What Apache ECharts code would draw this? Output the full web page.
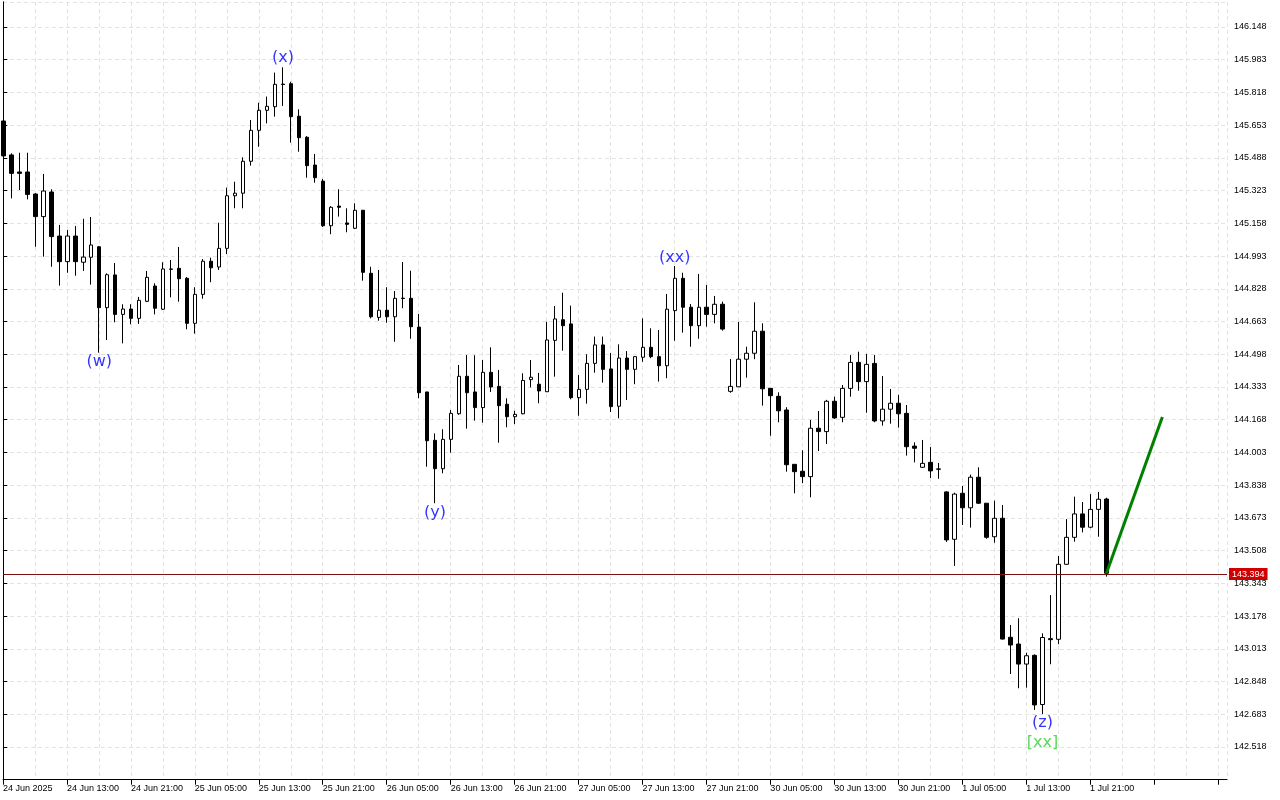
<!DOCTYPE html>
<html><head><meta charset="utf-8">
<script src="https://cdn.jsdelivr.net/npm/echarts@6.0.0/dist/echarts.min.js"></script>
<style>html,body{margin:0;padding:0;background:#fff}#c{width:1280px;height:800px}</style>
</head><body><div id="c"></div>
<script>
const timeLabels = ['24 Jun 2025','24 Jun 13:00','24 Jun 21:00','25 Jun 05:00','25 Jun 13:00','25 Jun 21:00','26 Jun 05:00','26 Jun 13:00','26 Jun 21:00','27 Jun 05:00','27 Jun 13:00','27 Jun 21:00','30 Jun 05:00','30 Jun 13:00','30 Jun 21:00','1 Jul 05:00','1 Jul 13:00','1 Jul 21:00'];
const barsPerLabel = 8;

const opens = [145.674,145.503,145.417,145.417,145.306,145.192,145.316,145.094,144.965,145.094,144.962,144.987,145.040,144.733,144.898,144.699,144.726,144.679,144.765,144.842,144.725,144.926,144.931,144.881,144.654,144.800,144.967,144.938,145.032,145.297,145.310,145.471,145.627,145.728,145.746,145.860,145.862,145.698,145.592,145.452,145.371,145.146,145.245,145.160,145.133,145.224,144.906,144.684,144.720,144.687,144.779,144.780,144.635,144.308,144.064,143.921,144.069,144.198,144.387,144.308,144.229,144.407,144.336,144.246,144.183,144.198,144.370,144.347,144.309,144.568,144.672,144.651,144.279,144.321,144.452,144.545,144.424,144.236,144.479,144.422,144.483,144.533,144.486,144.440,144.718,144.881,144.735,144.642,144.735,144.699,144.750,144.311,144.334,144.473,144.503,144.614,144.326,144.286,144.217,143.943,143.908,143.881,144.125,144.108,144.261,144.180,144.326,144.457,144.360,144.452,144.162,144.221,144.251,144.200,144.035,143.928,143.953,143.918,143.804,143.565,143.797,143.724,143.878,143.747,143.578,143.671,143.071,143.037,142.936,142.980,142.732,143.064,143.061,143.439,143.575,143.693,143.626,143.716,143.768];
const closes = [145.498,145.410,145.410,145.304,145.192,145.321,145.091,144.965,145.094,144.965,144.988,145.049,144.733,144.899,144.699,144.726,144.679,144.770,144.886,144.730,144.928,144.928,144.879,144.654,144.800,144.967,144.934,145.032,145.297,145.310,145.471,145.627,145.728,145.748,145.859,145.858,145.696,145.590,145.449,145.388,145.146,145.239,145.239,145.153,145.224,144.911,144.687,144.720,144.687,144.780,144.781,144.637,144.304,144.062,143.921,144.069,144.200,144.387,144.304,144.229,144.407,144.333,144.239,144.183,144.195,144.366,144.382,144.313,144.570,144.676,144.642,144.279,144.321,144.452,144.545,144.422,144.234,144.479,144.422,144.486,144.533,144.486,144.440,144.725,144.881,144.735,144.642,144.735,144.699,144.750,144.625,144.336,144.473,144.503,144.614,144.324,144.289,144.213,143.941,143.906,143.881,144.125,144.108,144.261,144.177,144.326,144.457,144.360,144.447,144.162,144.221,144.251,144.198,144.032,144.024,143.948,143.910,143.920,143.562,143.793,143.724,143.878,143.747,143.575,143.671,143.062,143.032,142.936,142.978,142.730,143.070,143.059,143.439,143.575,143.693,143.626,143.716,143.767,143.394];
const lows = [145.488,145.284,145.326,145.279,145.040,144.990,144.939,144.844,144.909,144.894,144.918,144.849,144.506,144.570,144.659,144.553,144.649,144.651,144.761,144.699,144.721,144.785,144.763,144.624,144.602,144.778,144.861,144.923,145.003,145.234,145.234,145.449,145.544,145.662,145.696,145.750,145.565,145.519,145.388,145.363,145.140,145.103,145.192,145.113,145.130,144.869,144.679,144.667,144.657,144.561,144.730,144.576,144.276,143.931,143.747,143.898,144.002,144.193,144.123,144.163,144.153,144.308,144.052,144.130,144.146,144.195,144.331,144.251,144.308,144.385,144.516,144.271,144.188,144.249,144.405,144.355,144.207,144.175,144.267,144.347,144.460,144.478,144.360,144.377,144.566,144.607,144.536,144.576,144.637,144.654,144.617,144.304,144.333,144.380,144.473,144.239,144.087,144.155,143.906,143.797,143.848,143.777,144.010,144.046,144.172,144.155,144.284,144.314,144.203,144.155,144.138,144.148,144.128,143.987,143.953,143.925,143.874,143.870,143.552,143.431,143.637,143.624,143.743,143.568,143.548,143.060,142.886,142.814,142.817,142.705,142.684,142.935,143.036,143.438,143.553,143.600,143.621,143.578,143.377];
const highs = [145.684,145.511,145.514,145.514,145.310,145.407,145.330,145.150,145.124,145.145,145.181,145.190,145.044,144.906,144.958,144.750,144.750,144.787,144.918,144.856,144.962,144.973,145.039,144.887,144.836,144.978,144.985,145.161,145.338,145.368,145.491,145.679,145.766,145.797,145.918,145.945,145.872,145.733,145.598,145.508,145.382,145.245,145.330,145.234,145.259,145.225,144.939,144.923,144.836,144.817,144.963,144.919,144.701,144.308,144.099,144.120,144.217,144.444,144.494,144.493,144.469,144.533,144.419,144.276,144.213,144.402,144.469,144.404,144.662,144.741,144.808,144.743,144.393,144.498,144.587,144.587,144.504,144.548,144.514,144.489,144.679,144.629,144.620,144.802,144.943,144.909,144.751,144.903,144.847,144.792,144.763,144.474,144.661,144.536,144.760,144.654,144.326,144.306,144.231,143.943,144.014,144.167,144.212,144.268,144.284,144.343,144.494,144.511,144.499,144.494,144.388,144.323,144.293,144.242,144.054,144.066,144.030,143.950,143.807,143.800,143.834,143.891,143.928,143.747,143.760,143.738,143.133,143.167,142.993,142.985,143.091,143.284,143.481,143.667,143.780,143.753,143.793,143.804,143.775];

const projBars = [138, 145];
const projPrices = [143.394, 144.182];
const lastPrice = 143.394;

const waveText = ['(w)','(x)','(y)','(xx)','(z)','[xx]'];
const waveBar = [12, 35, 54, 84, 130, 130];
const wavePrice = [144.459, 145.992, 143.698, 144.983, 142.639, 142.538];
const waveColor = ['#0000ff','#0000ff','#0000ff','#0000ff','#0000ff','#32cd32'];

const yMin = 142.353, yMax = 146.274, yStep = 0.165;
const xMin = -0.04, xMax = 153.085;

const candleData = opens.map((o, i) => [i, o, closes[i], lows[i], highs[i]]);
const gridLine = { color: '#e3e3e3', type: [4, 3], width: 1 };
const FONT = 'Liberation Sans';

const chart = echarts.init(document.getElementById('c'), null, { renderer: 'canvas' });
chart.setOption({
  animation: false,
  backgroundColor: '#ffffff',
  grid: { left: 2, top: 2, right: 53, bottom: 20.3, show: false },
  xAxis: {
    type: 'value', min: xMin, max: xMax, interval: barsPerLabel,
    axisLine: { show: true, onZero: false, lineStyle: { color: '#000', width: 1 } },
    axisTick: { show: true, length: 5, lineStyle: { color: '#000' } },
    minorTick: { show: false, splitNumber: 2 },
    minorSplitLine: { show: true, lineStyle: gridLine },
    splitLine: { show: true, lineStyle: gridLine },
    axisLabel: {
      align: 'left', margin: 4, fontFamily: FONT, fontSize: 9, color: '#000',
      showMaxLabel: false,
      formatter: v => {
        const idx = Math.round((v - xMin) / barsPerLabel);
        if (Math.abs(v - (xMin + idx * barsPerLabel)) > 0.01) return '';
        return timeLabels[idx] || '';
      }
    }
  },
  yAxis: [{
    type: 'value', position: 'right', min: yMin, max: yMax, interval: yStep,
    axisLine: { show: true, lineStyle: { color: '#000', width: 1 } },
    axisTick: { show: true, length: 4, lineStyle: { color: '#000' } },
    splitLine: { show: true, lineStyle: gridLine },
    axisLabel: {
      fontFamily: FONT, fontSize: 9, color: '#000', margin: 7,
      showMinLabel: false, showMaxLabel: false,
      formatter: v => v.toFixed(3)
    }
  }, {
    type: 'value', position: 'left', min: yMin, max: yMax,
    axisLine: { show: true, lineStyle: { color: '#000', width: 1 } },
    axisTick: { show: false }, axisLabel: { show: false }, splitLine: { show: false }
  }],
  series: [
    {
      type: 'candlestick',
      data: candleData,
      encode: { x: 0, y: [1, 2, 3, 4] },
      barWidth: 4,
      itemStyle: { color: '#ffffff', color0: '#000000', borderColor: '#000000', borderColor0: '#000000', borderWidth: 1 },
      markLine: {
        symbol: 'none', silent: true, animation: false,
        data: [{ yAxis: lastPrice }],
        lineStyle: { color: '#7a1010', width: 1, type: 'solid' },
        label: { show: true, position: 'end', formatter: lastPrice.toFixed(3), backgroundColor: '#d00000', color: '#fff', fontFamily: FONT, fontSize: 9, padding: [2, 3, 1, 3], distance: 2 }
      },
      z: 3
    },
    {
      type: 'line',
      data: projBars.map((b, i) => [b, projPrices[i]]),
      symbol: 'none',
      lineStyle: { color: '#008000', width: 3 },
      z: 5
    },
    {
      type: 'scatter',
      symbolSize: 1,
      itemStyle: { color: 'rgba(0,0,0,0)' },
      data: waveBar.map((b, i) => ({
        value: [b, wavePrice[i]],
        label: { show: true, position: 'inside', formatter: waveText[i], color: waveColor[i], fontFamily: 'DejaVu Sans', fontSize: 16 }
      })),
      z: 6
    }
  ]
});
</script></body></html>
